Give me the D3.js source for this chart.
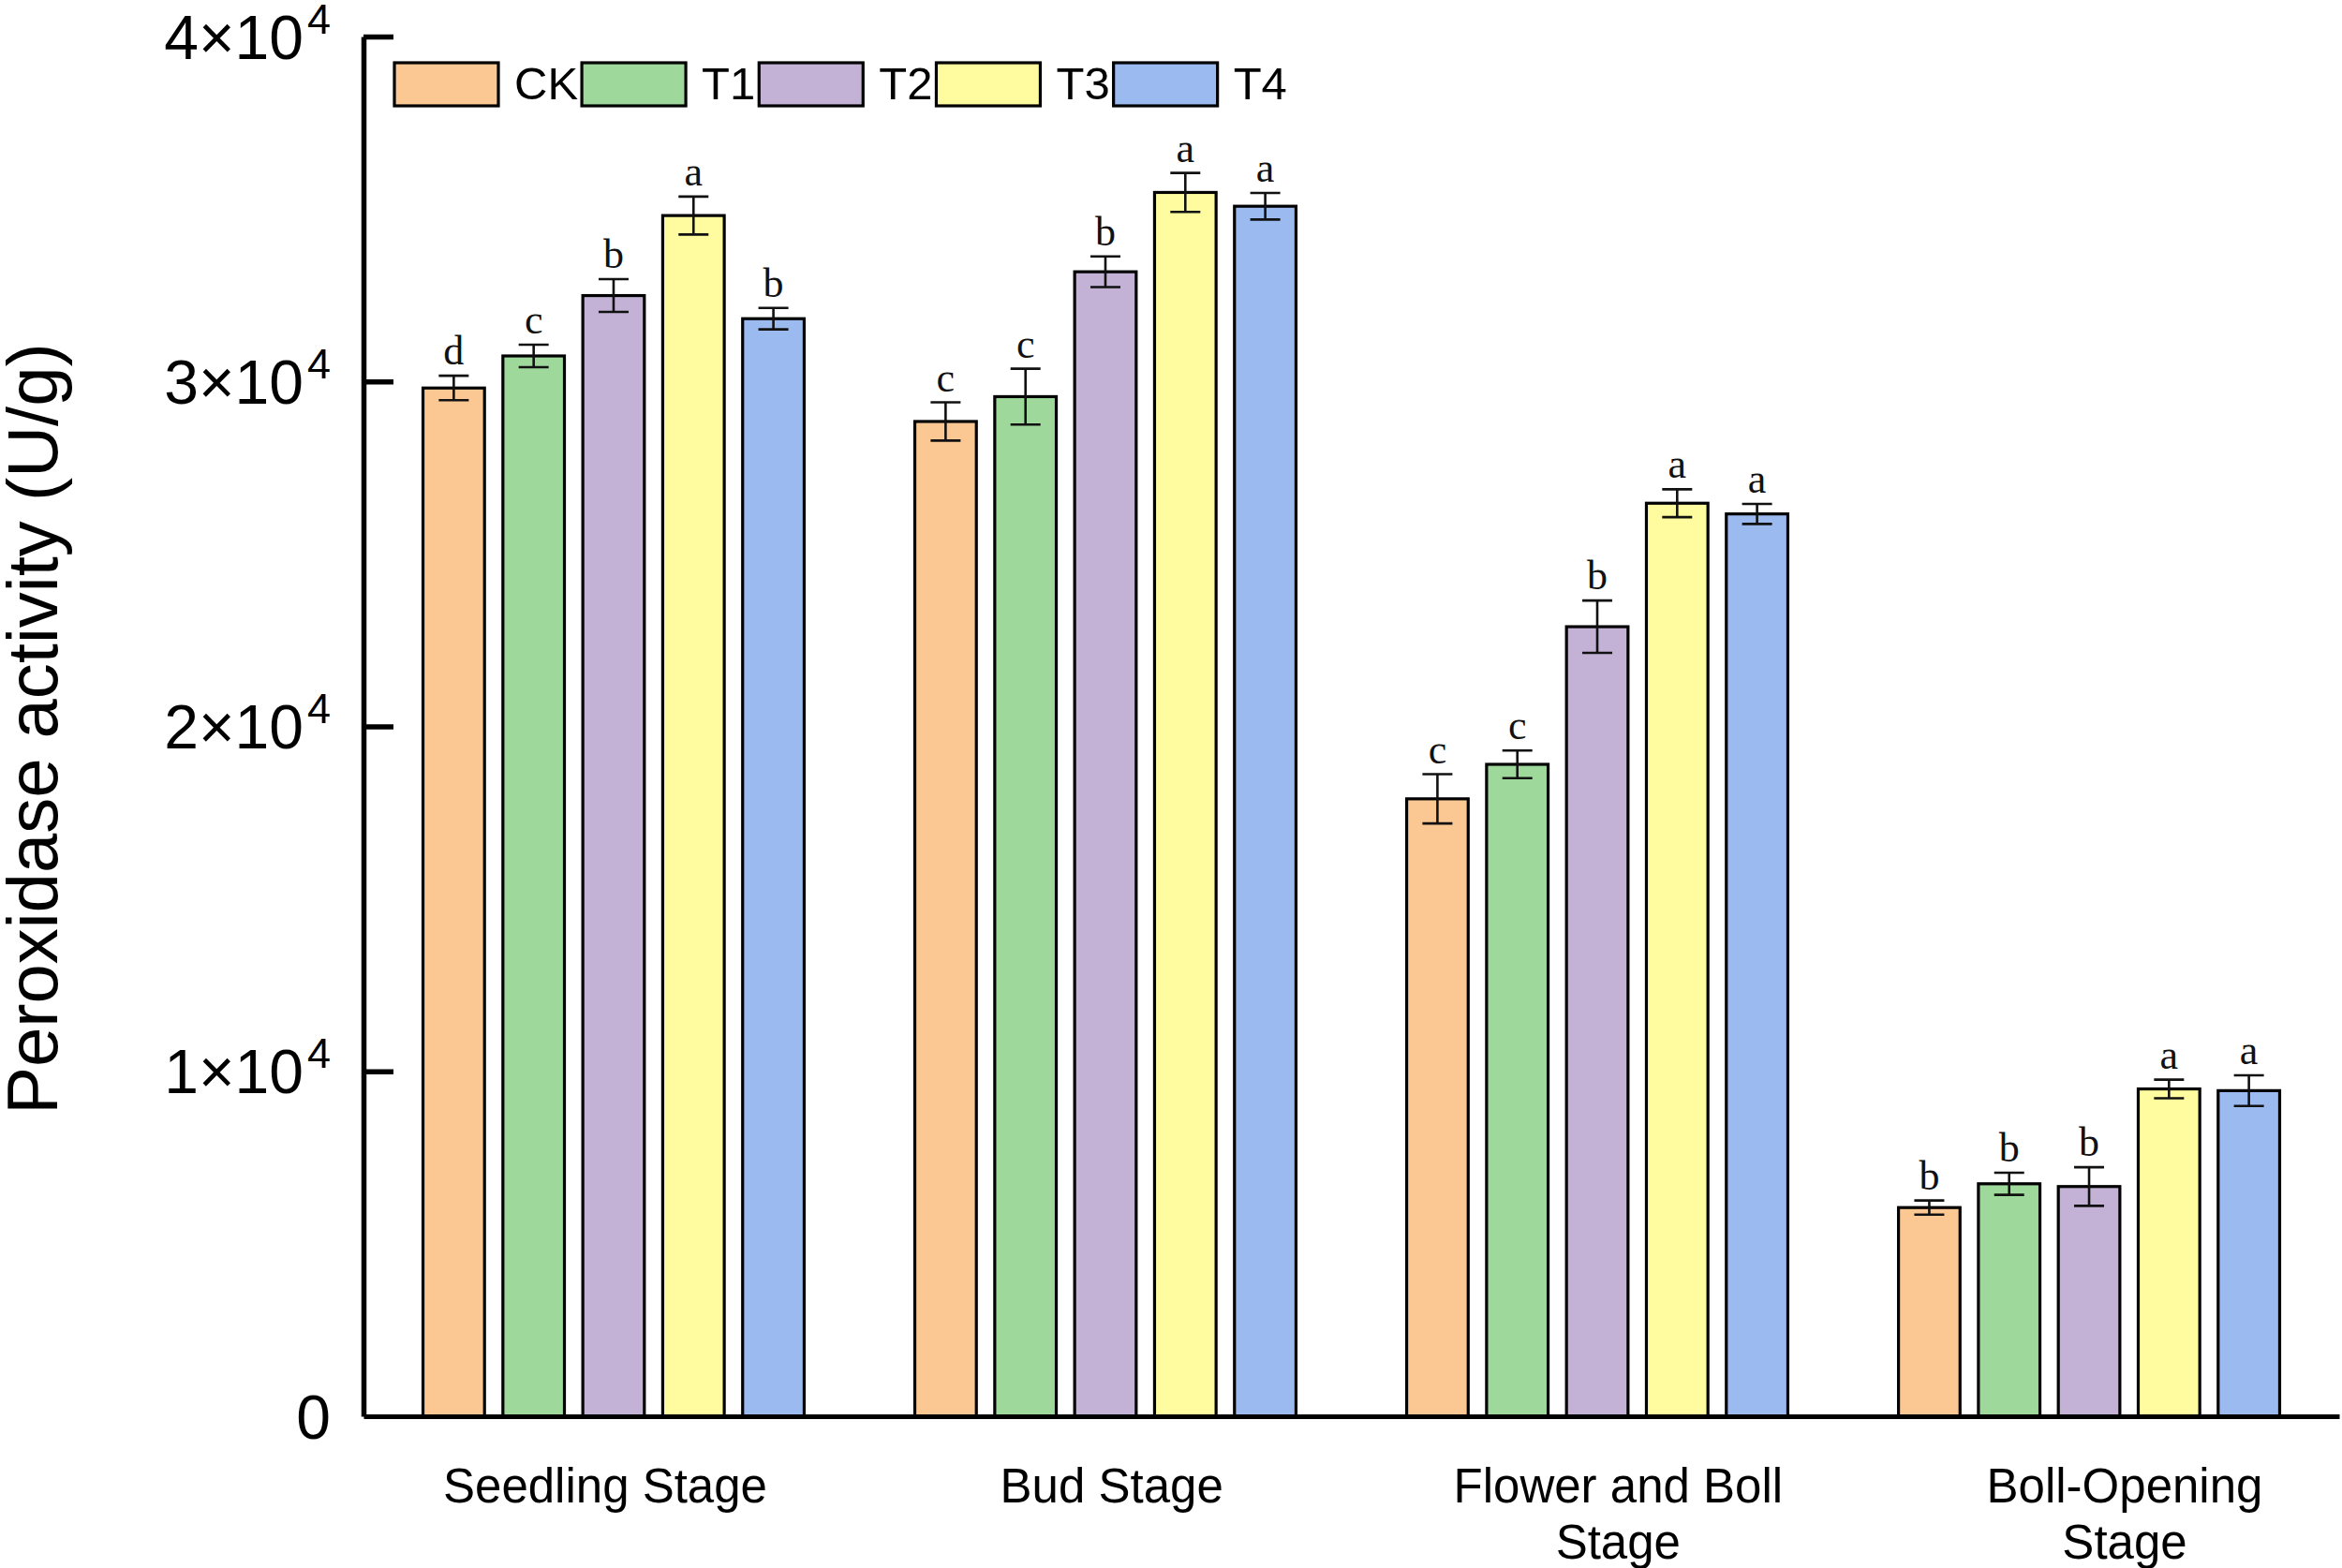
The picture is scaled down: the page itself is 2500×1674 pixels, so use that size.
<!DOCTYPE html>
<html>
<head>
<meta charset="utf-8">
<script src="https://cdn.jsdelivr.net/npm/d3@7"></script>
<style>
  body { margin: 0; background: #fff; }
  svg { display: block; }
</style>
</head>
<body>
<div id="chart"></div>
<script>
// stages on the x axis, treatments inside each stage
const stages = ['Seedling Stage', 'Bud Stage', 'Flower and Boll Stage', 'Boll-Opening Stage'];
const stageLines = [['Seedling Stage'], ['Bud Stage'], ['Flower and Boll', 'Stage'], ['Boll-Opening', 'Stage']];
const treatments = ['CK', 'T1', 'T2', 'T3', 'T4'];
const colors = ['#FBC894', '#9ED89B', '#C3B2D6', '#FEFC9E', '#9BBAF0'];

// peroxidase activity (U/g), one row per stage, CK..T4
const meanValues = [
    [29810, 30740, 32490, 34810, 31820],
    [28840, 29560, 33180, 35480, 35080],
    [17900, 18900, 22890, 26470, 26160],
    [6050, 6740, 6660, 9490, 9440]
];
const errorValues = [
    [355, 325, 475, 550, 310],
    [555, 810, 445, 565, 385],
    [715, 400, 760, 405, 290],
    [205, 320, 560, 270, 445]
];
const sigLetters = [
    ['d', 'c', 'b', 'a', 'b'],
    ['c', 'c', 'b', 'a', 'a'],
    ['c', 'c', 'b', 'a', 'a'],
    ['b', 'b', 'b', 'a', 'a']
];
const yTicks = [0, 10000, 20000, 30000, 40000];

const W = 2500, H = 1674;
const plot = {left: 388, right: 2497, top: 39, bottom: 1512};
const sans = '"Liberation Sans", Arial, sans-serif';
const serif = '"Liberation Serif", "Times New Roman", serif';

const svg = d3.select('#chart')
    .append('svg')
    .attr('width', W)
    .attr('height', H)
    .style('background', '#fff');

const x0 = d3.scaleBand()
    .domain(stages)
    .range([plot.left, plot.right])
    .paddingInner(0.225)
    .paddingOuter(0.121);

const x1 = d3.scaleBand()
    .domain(treatments)
    .range([0, x0.bandwidth()])
    .paddingInner(0.23);

const y = d3.scaleLinear()
    .domain([0, 40000])
    .range([plot.bottom, plot.top]);

// label positions under the groups (slightly wider spacing than the bars)
const xLabel = d3.scalePoint()
    .domain(stages)
    .range([646, 2268]);

// rows of data
const rows = [];
stages.forEach((s, i) => {
    treatments.forEach((t, j) => {
        rows.push({stage: s, treat: t, color: colors[j], mean: meanValues[i][j], err: errorValues[i][j], letter: sigLetters[i][j]});
    });
});

const groups = svg.append('g').attr('class', 'bars');

groups.selectAll('rect')
    .data(rows)
    .enter()
    .append('rect')
    .attr('x', d => x0(d.stage) + x1(d.treat))
    .attr('y', d => y(d.mean))
    .attr('width', x1.bandwidth())
    .attr('height', d => y(0) - y(d.mean))
    .attr('fill', d => d.color)
    .attr('stroke', '#000')
    .attr('stroke-width', 3.2);

// error bars
const capHalf = 16;
const eb = svg.append('g').attr('class', 'errorbars')
    .attr('stroke', '#111')
    .attr('stroke-width', 2.6)
    .attr('fill', 'none');

rows.forEach(d => {
    const cx = x0(d.stage) + x1(d.treat) + x1.bandwidth() / 2;
    const yt = y(d.mean + d.err), yb = y(d.mean - d.err);
    eb.append('line').attr('x1', cx).attr('x2', cx).attr('y1', yt).attr('y2', yb);
    eb.append('line').attr('x1', cx - capHalf).attr('x2', cx + capHalf).attr('y1', yt).attr('y2', yt);
    eb.append('line').attr('x1', cx - capHalf).attr('x2', cx + capHalf).attr('y1', yb).attr('y2', yb);
});

// significance letters
svg.append('g').attr('class', 'letters')
    .selectAll('text')
    .data(rows)
    .enter()
    .append('text')
    .attr('x', d => x0(d.stage) + x1(d.treat) + x1.bandwidth() / 2)
    .attr('y', d => y(d.mean + d.err) - 12)
    .attr('text-anchor', 'middle')
    .style('font-family', serif)
    .style('font-size', '44px')
    .style('fill', '#111')
    .text(d => d.letter);

// x axis (line only)
const xAxis = svg.append('g')
    .attr('class', 'x-axis')
    .attr('transform', 'translate(0,' + plot.bottom + ')')
    .call(d3.axisBottom(x0).tickSize(0).tickFormat(''));
xAxis.select('.domain').attr('stroke', '#000').attr('stroke-width', 5);

// y axis: ticks point inward, labels as a x 10^4
const yAxis = svg.append('g')
    .attr('class', 'y-axis')
    .attr('transform', 'translate(' + plot.left + ',0)')
    .call(d3.axisLeft(y).tickValues(yTicks).tickSizeInner(-32).tickSizeOuter(0).tickPadding(35));
yAxis.select('.domain').attr('stroke', '#000').attr('stroke-width', 5.5);
yAxis.selectAll('.tick line').attr('stroke', '#000').attr('stroke-width', 5.5);
yAxis.selectAll('.tick line').filter(d => d === 0).remove();
yAxis.selectAll('.tick text')
    .attr('dy', '0.35em')
    .style('font-family', sans)
    .style('font-size', '66px')
    .attr('fill', '#000')
    .each(function(d) {
        const t = d3.select(this);
        t.text(null);
        if (d === 0) {
            t.append('tspan').text('0');
        } else {
            t.append('tspan').text((d / 10000) + '×10');
            t.append('tspan').attr('dy', -27).attr('dx', 4).style('font-size', '45px').text('4');
        }
    });

// y axis title
svg.append('text')
    .attr('class', 'y-axis-title')
    .attr('transform', 'translate(61,778) rotate(-90)')
    .attr('text-anchor', 'middle')
    .style('font-family', sans)
    .style('font-size', '76px')
    .style('fill', '#000')
    .text('Peroxidase activity (U/g)');

// x category labels
const xl = svg.append('g').attr('class', 'x-labels');
stages.forEach((s, i) => {
    const t = xl.append('text')
        .attr('x', xLabel(s))
        .attr('y', 1604)
        .attr('text-anchor', 'middle')
        .style('font-family', sans)
        .style('font-size', '51px')
        .style('fill', '#000');
    stageLines[i].forEach((line, k) => {
        t.append('tspan')
            .attr('x', xLabel(s))
            .attr('dy', k === 0 ? 0 : 60)
            .text(line);
    });
});

// legend
const legend = svg.append('g').attr('class', 'legend');
let lx = 421;
treatments.forEach((t, i) => {
    legend.append('rect')
        .attr('x', lx)
        .attr('y', 67)
        .attr('width', 111)
        .attr('height', 46)
        .attr('fill', colors[i])
        .attr('stroke', '#000')
        .attr('stroke-width', 3.2);
    const label = legend.append('text')
        .attr('x', lx + 111 + 17)
        .attr('y', 106)
        .style('font-family', sans)
        .style('font-size', '49px')
        .style('fill', '#000')
        .text(t);
    lx += 111 + 17 + label.node().getComputedTextLength() + 4;
});
</script>
</body>
</html>
